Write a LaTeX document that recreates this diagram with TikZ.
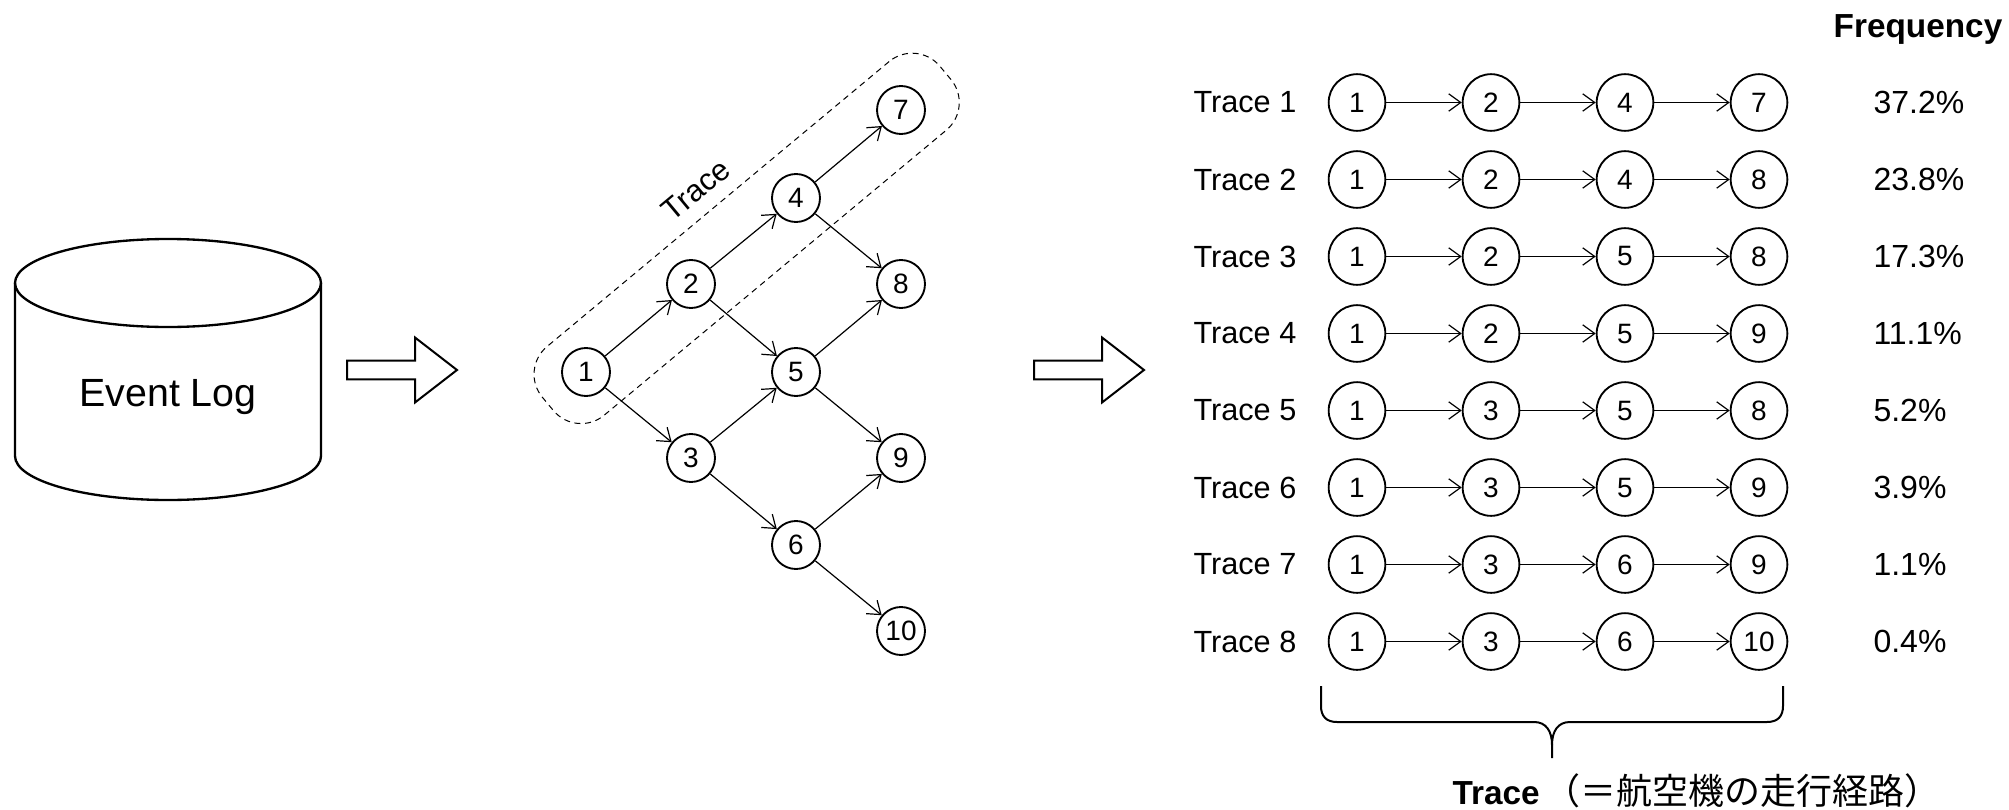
\documentclass[tikz,border=0pt]{standalone}
\usepackage{fontspec}
\setmainfont{Liberation Sans}
\newfontfamily\jpfont{Noto Sans CJK JP}
\usepackage{tikz}
\usetikzlibrary{arrows.meta,calc}
\tikzset{every picture/.style={line width=0.75pt}}
\tikzset{
	gnode/.style={circle,draw,line width=1.4pt,minimum size=36pt,inner sep=0pt,font=\fontsize{21}{24}\selectfont},
	tnode/.style={circle,draw,line width=1.4pt,minimum size=42.5pt,inner sep=0pt,font=\fontsize{21}{24}\selectfont},
	flow/.style={-{Straight Barb[length=9pt,width=13pt]},line width=0.9pt},
	tracebox/.style={draw,dash pattern=on 4.5pt off 3.5pt,rounded corners=27pt,inner sep=0pt,minimum width=388pt,minimum height=67pt},
	rowlabel/.style={anchor=west,inner sep=0pt,font=\fontsize{23}{28}\selectfont},
	share/.style={anchor=west,inner sep=0pt,font=\fontsize{24}{28}\selectfont},
	bigarrow/.pic={\draw[line width=1.5pt] (0,-9.3) -- (68,-9.3) -- (68,-32.5) -- (110,0) -- (68,32.5) -- (68,9.3) -- (0,9.3) -- cycle;}
}

\begin{document}
\begin{tikzpicture}[x=0.75pt,y=0.75pt,yscale=-1,xscale=1]
	\useasboundingbox (0,0) rectangle (2009,810);
	
	%Shape: Can
	\draw[line width=1.75pt] (168,283) ellipse [x radius=153,y radius=44];
	\draw[line width=1.75pt] (15,283) -- (15,456) arc [start angle=180,end angle=0,x radius=153,y radius=44] -- (321,283);
	\node[anchor=base,font=\fontsize{29.5}{34}\selectfont] (log) at (168,406.5) {Event Log};
	
	%Right Arrows
	\pic at (347,370) {bigarrow};
	\pic at (1034,370) {bigarrow};
	
	%Graph nodes
	\node[gnode] (g1) at (586,372) {1};
	\node[gnode] (g2) at (691,284) {2};
	\node[gnode] (g3) at (691,458) {3};
	\node[gnode] (g4) at (796,198) {4};
	\node[gnode] (g5) at (796,372) {5};
	\node[gnode] (g6) at (796,545) {6};
	\node[gnode] (g7) at (901,110) {7};
	\node[gnode] (g8) at (901,284) {8};
	\node[gnode] (g9) at (901,458) {9};
	\node[gnode] (g10) at (901,631) {10};
	
	%Straight Lines
	\draw[flow] (g1) -- (g2);
	\draw[flow] (g1) -- (g3);
	\draw[flow] (g2) -- (g4);
	\draw[flow] (g2) -- (g5);
	\draw[flow] (g3) -- (g5);
	\draw[flow] (g3) -- (g6);
	\draw[flow] (g4) -- (g7);
	\draw[flow] (g4) -- (g8);
	\draw[flow] (g5) -- (g8);
	\draw[flow] (g5) -- (g9);
	\draw[flow] (g6) -- (g9);
	\draw[flow] (g6) -- (g10);
	
	%Rounded Rect, dashed
	\node[tracebox,rotate=39.8] (box) at ($(g1)!0.51!(g7)$) {};
	\node[rotate=39.8,font=\fontsize{23}{28}\selectfont] (boxlabel) at (696,190) {Trace};
	
	%Table of traces
	\node[anchor=base,font=\bfseries\fontsize{25}{30}\selectfont] (freqhead) at (1918,37.3) {Frequency};
	\foreach \r/\a/\b/\c/\p in {1/2/4/7/37.2,2/2/4/8/23.8,3/2/5/8/17.3,4/2/5/9/11.1,5/3/5/8/5.2,6/3/5/9/3.9,7/3/6/9/1.1,8/3/6/10/0.4}{
		\pgfmathsetmacro\yy{102.5+77*(\r-1)}
		\node[rowlabel] (lab\r) at (1193,\yy) {Trace \r};
		\node[tnode] (t\r-1) at (1357,\yy) {1};
		\node[tnode] (t\r-2) at (1491,\yy) {\a};
		\node[tnode] (t\r-3) at (1625,\yy) {\b};
		\node[tnode] (t\r-4) at (1759,\yy) {\c};
		\draw[flow] (t\r-1) -- (t\r-2);
		\draw[flow] (t\r-2) -- (t\r-3);
		\draw[flow] (t\r-3) -- (t\r-4);
		\node[share] (p\r) at (1873,\yy) {\p\%};
	}
	
	%Curly brace
	\draw[line width=1.5pt] (1321,686) -- (1321,706) .. controls (1321,716) and (1326,722) .. (1337,722) -- (1534,722) .. controls (1546,722) and (1552,731) .. (1552,745) -- (1552,758);
	\draw[line width=1.5pt] (1783,686) -- (1783,706) .. controls (1783,716) and (1778,722) .. (1767,722) -- (1570,722) .. controls (1558,722) and (1552,731) .. (1552,745);
	\node[anchor=base west,inner sep=0pt,font=\fontsize{25}{30}\selectfont] (caption) at (1452,804) {\textbf{Trace}\hspace{4pt}{\jpfont\fontsize{27}{30}\selectfont （＝航空機の走行経路）}};
\end{tikzpicture}
\end{document}
